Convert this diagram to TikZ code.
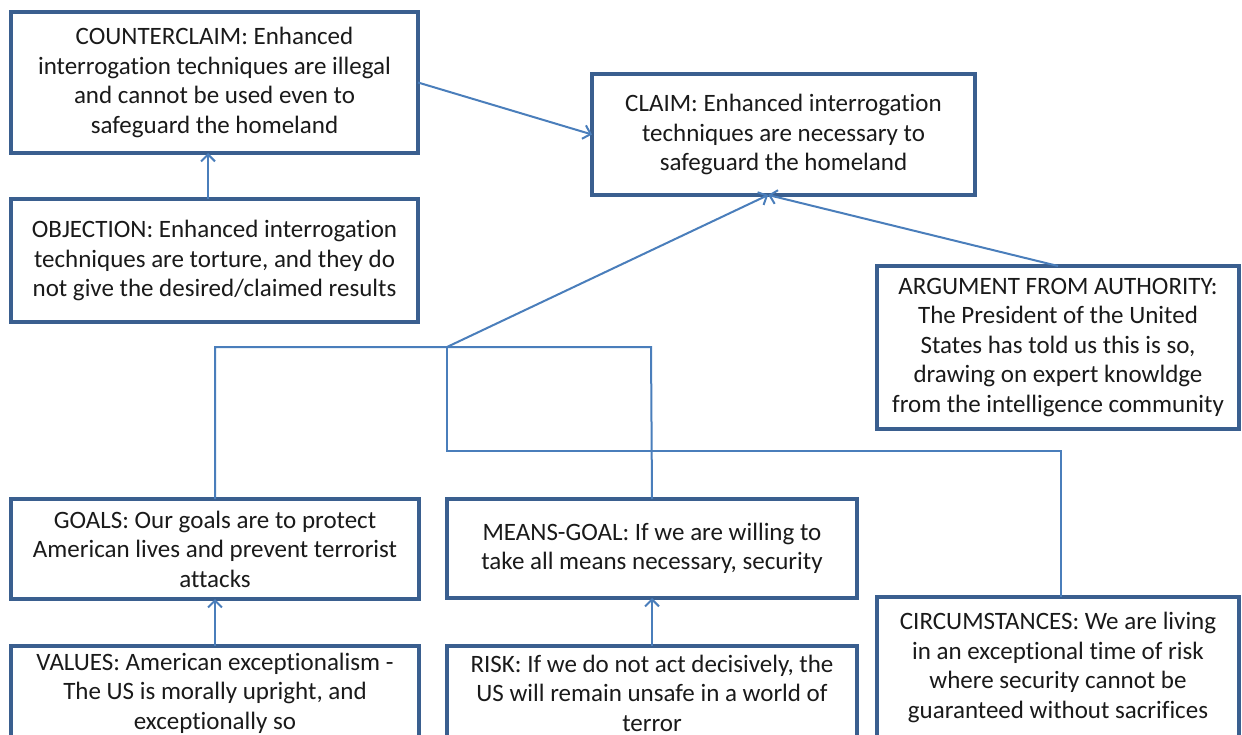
\documentclass[tikz,border=0pt]{standalone}
\usepackage{fontspec}
\setmainfont{Carlito}[Ligatures={NoCommon}]
\usetikzlibrary{arrows.meta,calc}
\definecolor{boxline}{HTML}{3A5F8F}
\definecolor{conn}{HTML}{4A7EBB}
\definecolor{txt}{HTML}{1A1A1A}
\begin{document}
\begin{tikzpicture}[x=1pt,y=-1pt,
  argbox/.style={draw=boxline,line width=3.6pt,fill=white,rectangle,inner sep=0pt,outer sep=0pt,
    align=center,text=txt,font=\fontsize{25}{29.5}\selectfont},
  link/.style={draw=conn,line width=2pt},
  arr/.style={link,-{Straight Barb[length=7pt,width=14pt,line width=2pt]}}]
\useasboundingbox (0,0) rectangle (1242,735);
\clip (0,0) rectangle (1242,735);
% boxes
\node[argbox,minimum width=407pt,minimum height=141pt] (counter) at (214.5,82.5)
  {COUNTERCLAIM: Enhanced\\interrogation techniques are illegal\\and cannot be used even to\\safeguard the homeland};
\node[argbox,minimum width=383pt,minimum height=121pt] (claim) at (783.5,134.5)
  {CLAIM: Enhanced interrogation\\techniques are necessary to\\safeguard the homeland};
\node[argbox,minimum width=407pt,minimum height=123pt] (obj) at (214.5,260.5)
  {OBJECTION: Enhanced interrogation\\techniques are torture, and they do\\not give the desired/claimed results};
\node[argbox,minimum width=362pt,minimum height=163pt] (auth) at (1058,347.5)
  {ARGUMENT FROM AUTHORITY:\\The President of the United\\States has told us this is so,\\drawing on expert knowldge\\from the intelligence\ community};
\node[argbox,minimum width=408pt,minimum height=100pt] (goals) at (215,549)
  {GOALS: Our goals are to protect\\American lives and prevent terrorist\\attacks};
\node[argbox,minimum width=410pt,minimum height=99pt] (means) at (652,548.5)
  {MEANS-GOAL: If we are willing to\\take\ all means necessary, security};
\node[argbox,minimum width=408pt,minimum height=94pt] (values) at (215,693)
  {VALUES: American exceptionalism -\\The US is morally upright, and\\exceptionally so};
\node[argbox,minimum width=410pt,minimum height=94pt] (risk) at (652,693)
  {RISK: If we do not act decisively, the\\US will remain unsafe in a world of\\terror};
\node[argbox,minimum width=362pt,minimum height=141pt] (circ) at (1058,667.5)
  {CIRCUMSTANCES: We are living\\in an exceptional time of risk\\where security cannot be\\guaranteed without sacrifices};
% coordinates
\coordinate (tip) at ($(claim.south west)!0.46!(claim.south east)$);
\coordinate (J) at (447,347);
\coordinate (L) at (213,347);
\coordinate (R) at (651,347);
\coordinate (C1) at (447,451);
\coordinate (C2) at (1061,451);
\coordinate (objtop) at (208,199);
\coordinate (cntbot) at (208,153);
% connectors
\draw[arr] (counter.east) -- (claim.west);
\draw[arr] (objtop) -- (cntbot);
\draw[arr] (J) -- (tip);
\draw[arr] (auth.north) -- (tip);
\draw[link] (goals.north) -- (goals.north |- L) -- (R) -- (means.north);
\draw[link] (J) -- (C1) -- (C2) -- (C2 |- circ.north);
\draw[arr] (values.north) -- (goals.south);
\draw[arr] (risk.north) -- (means.south);
\end{tikzpicture}
\end{document}
